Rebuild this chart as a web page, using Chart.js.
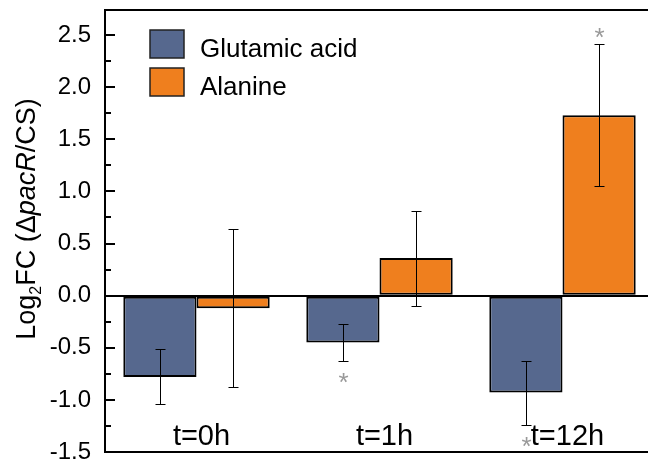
<!DOCTYPE html>
<html>
<head>
<meta charset="utf-8">
<script src="https://cdn.jsdelivr.net/npm/chart.js@4.4.1/dist/chart.umd.min.js"></script>
<style>
  html, body { margin: 0; padding: 0; background: #fff; overflow: hidden; }
  #wrap { width: 660px; height: 460px; }
</style>
</head>
<body>
<div id="wrap"><canvas id="chart" width="660" height="460"></canvas></div>
<script>
const categories = ['t=0h', 't=1h', 't=12h'];
const seriesNames = ['Glutamic acid', 'Alanine'];
const glutamic = [-0.78, -0.45, -0.93];
const alanine = [-0.12, 0.36, 1.73];
const glutamicErrLow = [-1.04, -0.63, -1.24];
const glutamicErrHigh = [-0.51, -0.27, -0.63];
const alanineErrLow = [-0.88, -0.10, 1.05];
const alanineErrHigh = [0.64, 0.81, 2.41];
// * marks (significant), drawn past the outer end of the error bar
const glutamicSig = [false, true, true];
const alanineSig = [false, false, true];
const yTicks = [-1.5, -1.0, -0.5, 0.0, 0.5, 1.0, 1.5, 2.0, 2.5];

const BLUE = '#56688e';
const ORANGE = '#ef7f1e';
const FONT = "'Liberation Sans', Arial, sans-serif";

// error bars + asterisks
const errorBars = {
  id: 'errorBars',
  afterDatasetsDraw(chart) {
    const ctx = chart.ctx;
    const y = chart.scales.y;
    const sets = [
      [glutamicErrLow, glutamicErrHigh, glutamicSig],
      [alanineErrLow, alanineErrHigh, alanineSig]
    ];
    ctx.save();
    sets.forEach(([lo, hi, sig], di) => {
      const neg = di === 0;
      chart.getDatasetMeta(di).data.forEach((bar, i) => {
        const x = Math.round(bar.x) + 0.5;
        const yLo = Math.round(y.getPixelForValue(lo[i])) + 0.5;
        const yHi = Math.round(y.getPixelForValue(hi[i])) + 0.5;
        ctx.strokeStyle = '#000';
        ctx.lineWidth = 1;
        ctx.beginPath();
        ctx.moveTo(x, yLo); ctx.lineTo(x, yHi);
        ctx.moveTo(x - 5, yLo); ctx.lineTo(x + 5, yLo);
        ctx.moveTo(x - 5, yHi); ctx.lineTo(x + 5, yHi);
        ctx.stroke();
        if (sig[i]) {
          const size = 26;
          const cy = neg ? yLo + 15 : yHi - 13;
          ctx.fillStyle = '#999';
          ctx.font = size + 'px ' + FONT;
          ctx.textAlign = 'center';
          ctx.textBaseline = 'alphabetic';
          ctx.fillText('*', x, cy + 0.57 * size);
        }
      });
    });
    ctx.restore();
  }
};

// frame, inward ticks, category labels, legend, axis title
const decorations = {
  id: 'decorations',
  afterDraw(chart) {
    const ctx = chart.ctx;
    const { left, right, top, bottom } = chart.chartArea;
    const y = chart.scales.y;
    const x = chart.scales.x;
    ctx.save();
    ctx.strokeStyle = '#000';
    ctx.lineWidth = 2;
    ctx.beginPath();
    ctx.moveTo(left - 1, top); ctx.lineTo(right + 10, top);
    ctx.moveTo(left - 1, bottom); ctx.lineTo(right + 10, bottom);
    ctx.stroke();

    // inward ticks, major every 0.5, minor in between
    ctx.beginPath();
    for (let v = y.min; v <= y.max + 1e-9; v += 0.25) {
      const major = Math.abs(v * 2 - Math.round(v * 2)) < 1e-6;
      const py = Math.round(y.getPixelForValue(v));
      ctx.moveTo(left, py);
      ctx.lineTo(left + (major ? 10 : 6), py);
    }
    ctx.stroke();

    // category labels inside the plot
    ctx.fillStyle = '#000';
    ctx.font = '29px ' + FONT;
    ctx.textAlign = 'center';
    ctx.textBaseline = 'alphabetic';
    categories.forEach((c, i) => {
      ctx.fillText(c, x.getPixelForValue(i) + 5, bottom - 7);
    });

    // legend
    const colors = [BLUE, ORANGE];
    ctx.font = '26px ' + FONT;
    ctx.textAlign = 'left';
    seriesNames.forEach((name, i) => {
      const by = 30 + i * 38;
      ctx.fillStyle = colors[i];
      ctx.fillRect(150, by, 34, 28);
      ctx.lineWidth = 1.5;
      ctx.strokeStyle = '#222';
      ctx.strokeRect(150, by, 34, 28);
      ctx.fillStyle = '#000';
      ctx.fillText(name, 200, by + 27);
    });

    // y axis title: Log2FC (ΔpacR/CS)
    const parts = [
      { t: 'Log', f: '27px ' + FONT, dy: 0 },
      { t: '2', f: '16px ' + FONT, dy: 6 },
      { t: 'FC (\u0394', f: '27px ' + FONT, dy: 0 },
      { t: 'pacR', f: 'italic 27px ' + FONT, dy: 0 },
      { t: '/CS)', f: '27px ' + FONT, dy: 0 }
    ];
    let total = 0;
    parts.forEach(p => { ctx.font = p.f; p.w = ctx.measureText(p.t).width; total += p.w; });
    ctx.translate(35, 219);
    ctx.rotate(-Math.PI / 2);
    ctx.textAlign = 'left';
    let cx = -total / 2;
    parts.forEach(p => {
      ctx.font = p.f;
      ctx.fillText(p.t, cx, p.dy);
      cx += p.w;
    });
    ctx.restore();
  }
};

new Chart(document.getElementById('chart'), {
  type: 'bar',
  data: {
    labels: categories,
    datasets: [
      {
        label: seriesNames[0],
        data: glutamic,
        backgroundColor: BLUE,
        borderColor: '#000',
        borderWidth: 2,
        borderSkipped: false,
        categoryPercentage: 0.8,
        barPercentage: 1.0
      },
      {
        label: seriesNames[1],
        data: alanine,
        backgroundColor: ORANGE,
        borderColor: '#000',
        borderWidth: 2,
        borderSkipped: false,
        categoryPercentage: 0.8,
        barPercentage: 1.0
      }
    ]
  },
  options: {
    responsive: false,
    animation: false,
    devicePixelRatio: 1,
    layout: { padding: { top: 10, bottom: 8, left: 0, right: 6 } },
    plugins: {
      legend: { display: false },
      tooltip: { enabled: false },
      title: { display: false }
    },
    scales: {
      x: {
        display: false
      },
      y: {
        min: -1.5,
        max: 2.74,
        afterFit(scale) {
          scale.width = 105;
          // tick labels may overflow the plot edges, like the original
          scale.paddingTop = 0;
          scale.paddingBottom = 0;
        },
        afterBuildTicks(scale) { scale.ticks = yTicks.map(v => ({ value: v })); },
        ticks: {
          color: '#000',
          padding: 14,
          font: { family: FONT, size: 24 },
          callback: v => v.toFixed(1)
        },
        border: { display: true, color: '#000', width: 2 },
        grid: {
          drawTicks: false,
          lineWidth: 2,
          color: c => (c.tick && c.tick.value === 0 ? '#000' : 'rgba(0,0,0,0)')
        }
      }
    }
  },
  plugins: [errorBars, decorations]
});
</script>
</body>
</html>
